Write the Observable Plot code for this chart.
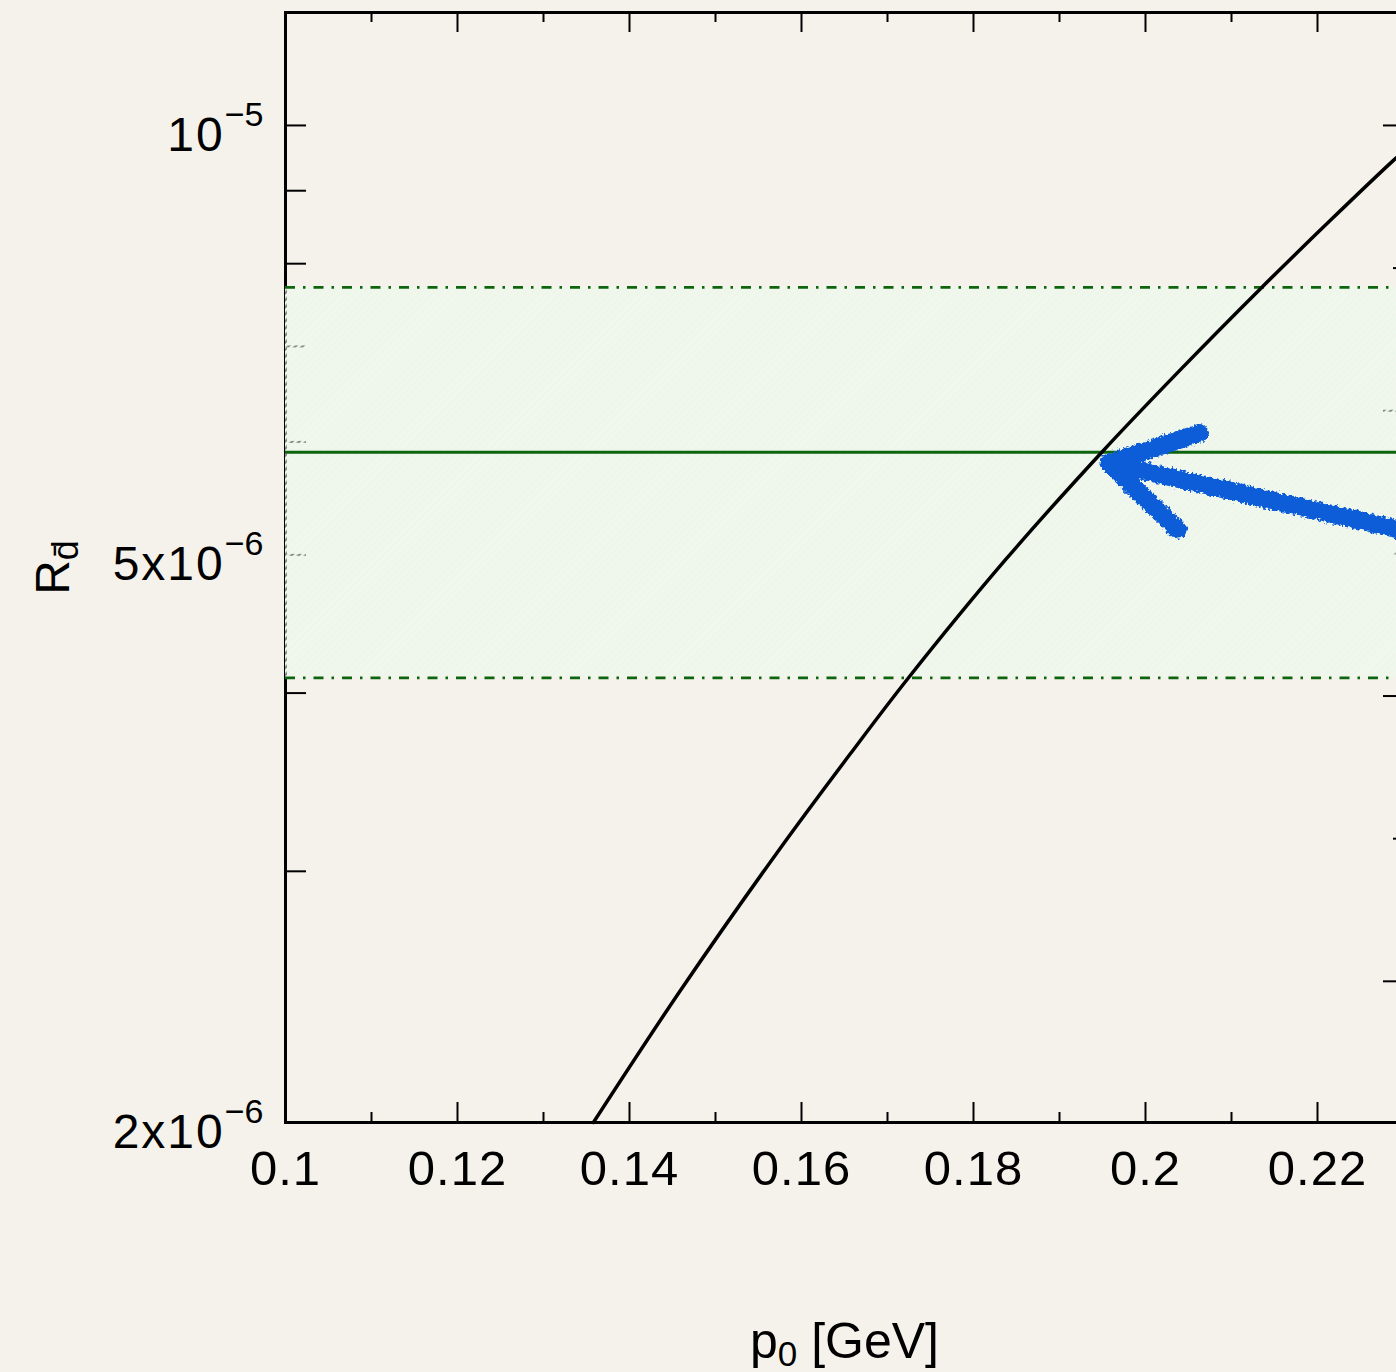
<!DOCTYPE html>
<html>
<head>
<meta charset="utf-8">
<script src="https://cdn.jsdelivr.net/npm/d3@7"></script>
<script src="https://cdn.jsdelivr.net/npm/@observablehq/plot@0.6"></script>
<style>
  html, body { margin: 0; padding: 0; background: #f5f2ec; overflow: hidden; width: 1396px; height: 1372px; }
  #chart svg { display: block; max-width: none !important; }
</style>
</head>
<body>
<div id="chart"></div>
<script>
// ---------- data ----------
const xDomain = [0.1, 0.23];
const yDomain = [2e-6, 1.2e-5];

// theory curve R_dbar(p0)
const curveX = [0.1358, 0.1459, 0.1572, 0.1657, 0.1724, 0.1837, 0.1950, 0.2041, 0.2134, 0.2215, 0.2288, 0.2300];
const curveY = [2.000e-6, 2.474e-6, 3.094e-6, 3.628e-6, 4.097e-6, 4.959e-6, 5.908e-6, 6.745e-6, 7.686e-6, 8.580e-6, 9.448e-6, 9.590e-6];

// measured band
const bandLow = 4.1e-6;
const bandCenter = 5.9e-6;
const bandHigh = 7.7e-6;

// ticks
const xMajorTicks = [0.1, 0.12, 0.14, 0.16, 0.18, 0.2, 0.22];
const xMinorTicks = [0.11, 0.13, 0.15, 0.17, 0.19, 0.21];
const xTickLabels = ["0.1", "0.12", "0.14", "0.16", "0.18", "0.2", "0.22"];
const yLeftTicks = [2e-6, 3e-6, 4e-6, 5e-6, 6e-6, 7e-6, 8e-6, 9e-6, 1e-5];
const yRightLongExp = [-5.0, -5.2, -5.4, -5.6];
const yRightShortExp = [-5.1, -5.3, -5.5];
const yLabelTicks = [1e-5, 5e-6, 2e-6];
const yLabelMantissa = ["10", "5x10", "2x10"];
const yLabelExponent = ["\u22125", "\u22126", "\u22126"];

// hand-drawn arrow (start -> tip)
const arrowX = [0.2300, 0.1957];
const arrowY = [5.20e-6, 5.80e-6];

// axis titles (main, subscript, rest)
const xTitleParts = ["p", "0", " [GeV]"];
const yTitleParts = ["R", "d\u0304"];

// ---------- layout ----------
const W = 1410, H = 1372;
const ML = 285, MR = 7, MT = 12, MB = 250;
const frameW = W - ML - MR;
const frameH = H - MT - MB;
const font = "'Liberation Sans', Arial, Helvetica, sans-serif";
const green = "#0d650d";

const curve = curveX.map((x, i) => ({x, y: curveY[i]}));
const band = [{x1: xDomain[0], x2: xDomain[1], y1: bandLow, y2: bandHigh}];
const arrow = [{x1: arrowX[0], y1: arrowY[0], x2: arrowX[1], y2: arrowY[1]}];
const xLabelMap = new Map(xMajorTicks.map((t, i) => [t, xTickLabels[i]]));
const yLabelMap = new Map(yLabelTicks.map((t, i) => [t, yLabelMantissa[i] + "^" + yLabelExponent[i]]));

const chart = Plot.plot({
  width: W,
  height: H,
  marginLeft: ML,
  marginRight: MR,
  marginTop: MT,
  marginBottom: MB,
  style: {background: "#f5f2ec", fontFamily: font, color: "#000", overflow: "visible", maxWidth: "none"},
  x: {type: "linear", domain: xDomain},
  y: {type: "log", domain: yDomain},
  marks: [
    // inward ticks
    Plot.ruleY(yLeftTicks, {stroke: "#000", strokeWidth: 2, insetRight: frameW - 21}),
    Plot.ruleY(yRightLongExp.map(e => 10 ** e), {stroke: "#000", strokeWidth: 2, insetLeft: frameW - 20}),
    Plot.ruleY(yRightShortExp.map(e => 10 ** e), {stroke: "#000", strokeWidth: 2, insetLeft: frameW - 10}),
    Plot.ruleX(xMajorTicks, {stroke: "#000", strokeWidth: 2, insetTop: frameH - 20}),
    Plot.ruleX(xMinorTicks, {stroke: "#000", strokeWidth: 2, insetTop: frameH - 10}),
    Plot.ruleX(xMajorTicks, {stroke: "#000", strokeWidth: 2, insetBottom: frameH - 20}),
    Plot.ruleX(xMinorTicks, {stroke: "#000", strokeWidth: 2, insetBottom: frameH - 10}),
    Plot.frame({stroke: "#000", strokeWidth: 3}),
    // band
    Plot.rect(band, {x1: "x1", x2: "x2", y1: "y1", y2: "y2", fill: "url(#bandHatch)"}),
    Plot.ruleY([bandLow, bandHigh], {stroke: green, strokeWidth: 2.8, strokeDasharray: "10,8,2.5,8"}),
    Plot.ruleY([bandCenter], {stroke: green, strokeWidth: 3}),
    // curve
    Plot.line(curve, {x: "x", y: "y", stroke: "#000", strokeWidth: 3.5, curve: "catmull-rom"}),
    // arrow
    Plot.arrow(arrow, {x1: "x1", y1: "y1", x2: "x2", y2: "y2", stroke: "#0c5cd8", strokeWidth: 18,
      headLength: 8, headAngle: 62, strokeLinecap: "round", strokeLinejoin: "round"}),
    // tick labels
    Plot.axisX(xMajorTicks, {tickSize: 0, tickPadding: 28, fontSize: 49, label: null,
      tickFormat: d => xLabelMap.get(d)}),
    Plot.axisY(yLabelTicks, {tickSize: 0, tickPadding: 22, fontSize: 48, label: null, dy: 10,
      tickFormat: d => yLabelMap.get(d)}),
    // titles
    Plot.text([xTitleParts.join("|")], {frameAnchor: "bottom", dy: 235, fontSize: 50,
      textAnchor: "middle"}),
    Plot.text([yTitleParts.join("|")], {frameAnchor: "left", dx: -232, rotate: -90, fontSize: 48,
      textAnchor: "middle"})
  ]
});

const svg = d3.select(chart);
svg.insert("defs", ":first-child").html(`
  <pattern id="bandHatch" patternUnits="userSpaceOnUse" width="5" height="5" patternTransform="rotate(45)">
    <rect width="5" height="5" fill="#ecf7e9" fill-opacity="0.55"/>
    <rect width="2.6" height="5" fill="#eef8ec"/>
  </pattern>
  <filter id="rough" x="-10%" y="-30%" width="120%" height="160%">
    <feTurbulence type="fractalNoise" baseFrequency="0.35" numOctaves="2" seed="3" result="noise"/>
    <feDisplacementMap in="SourceGraphic" in2="noise" scale="7" xChannelSelector="R" yChannelSelector="G"/>
  </filter>`);

svg.selectAll('g[aria-label="arrow"]').attr("filter", "url(#rough)");

// superscripts in y tick labels
svg.selectAll('g[aria-label="y-axis tick label"] text').each(function() {
  const [m, e] = this.textContent.split("^");
  const t = d3.select(this);
  t.text(null);
  t.append("tspan").attr("letter-spacing", 2).text(m);
  t.append("tspan").attr("dy", -25).attr("font-size", 34).text(e);
});
svg.selectAll('g[aria-label="x-axis tick label"] text').attr("letter-spacing", 1);

// subscripts in titles
svg.selectAll("text").each(function() {
  const s = this.textContent;
  if (!s.includes("|")) return;
  const parts = s.split("|");
  const t = d3.select(this);
  t.text(null);
  if (parts.length === 3) {
    t.append("tspan").text(parts[0]);
    t.append("tspan").attr("dy", 8).attr("font-size", 35).text(parts[1]);
    t.append("tspan").attr("dy", -8).text(parts[2]);
  } else {
    t.append("tspan").text(parts[0]);
    t.append("tspan").attr("dy", 9).attr("font-size", 36).text(parts[1]);
  }
});

document.getElementById("chart").appendChild(chart);
</script>
</body>
</html>
